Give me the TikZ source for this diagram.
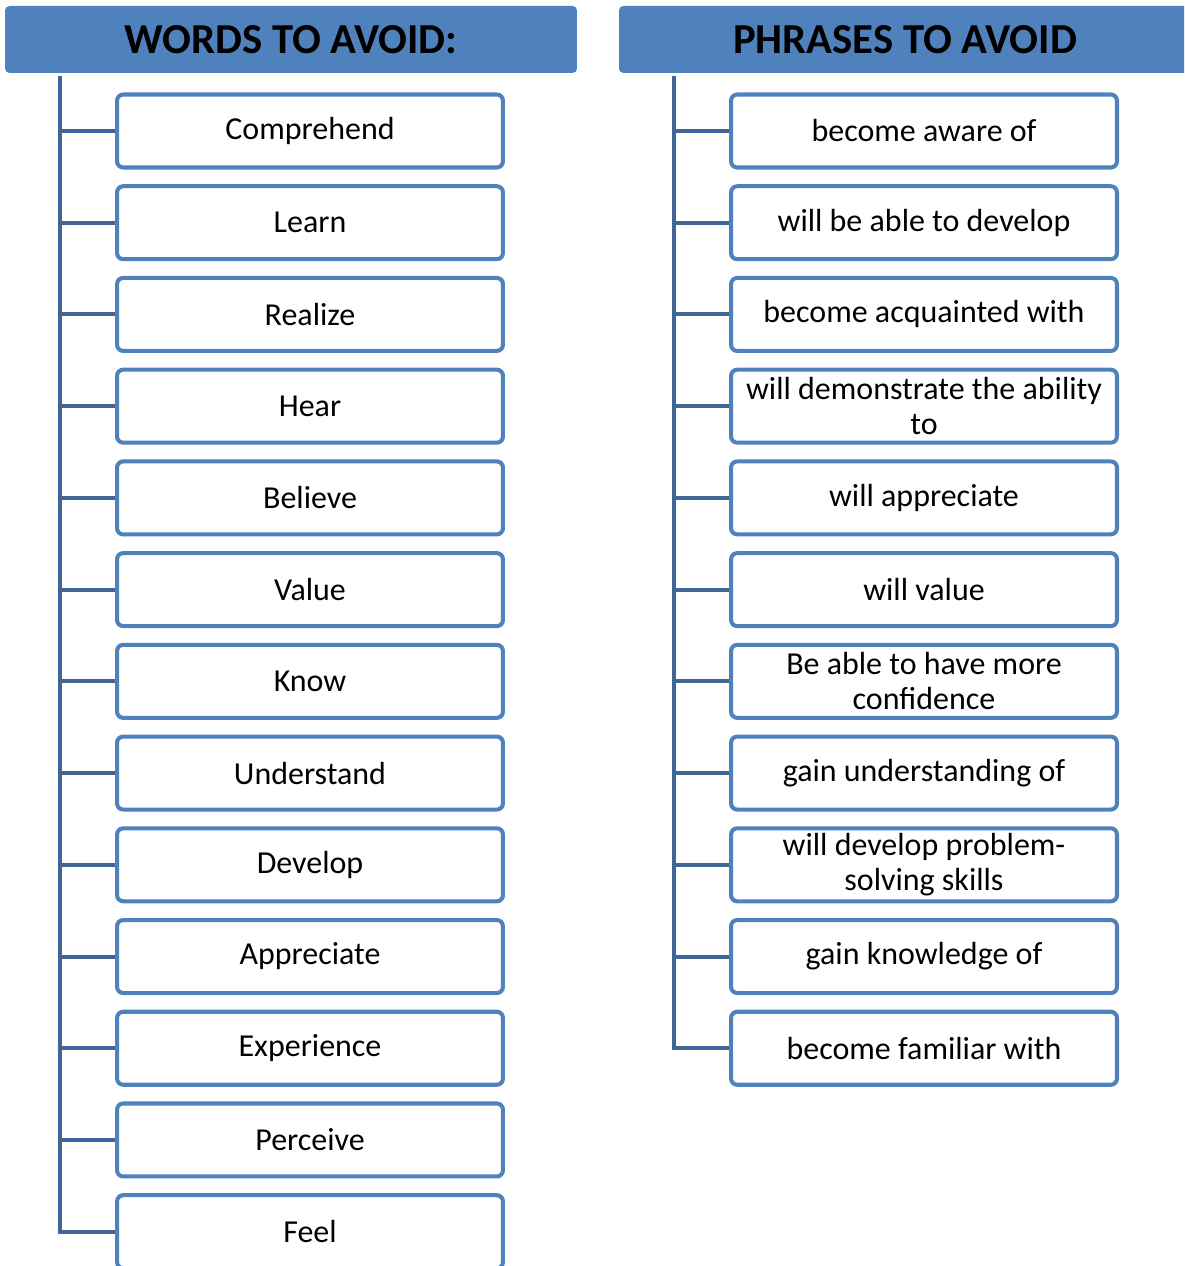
\documentclass[tikz,border=0pt]{standalone}
\usepackage{fontspec}
\setmainfont{Carlito}
\usetikzlibrary{positioning}
\definecolor{hdrblue}{HTML}{4F81BD}
\definecolor{trunkblue}{HTML}{3F6697}
\tikzstyle{header} = [rectangle, fill=hdrblue, rounded corners=2.5pt, minimum width=11.44cm, minimum height=1.34cm, font=\fontsize{24.3}{28}\selectfont\bfseries]
\tikzstyle{itembox} = [rectangle, draw=hdrblue, line width=2.3pt, fill=white, rounded corners=3.5pt, minimum width=7.72cm, minimum height=1.46cm, inner sep=1pt, align=center, font=\fontsize{18.2}{19.9}\selectfont]
\tikzstyle{branch} = [trunkblue, line width=2.3pt]

\begin{document}
\begin{tikzpicture}[x=0.02cm, y=-0.02cm, node distance=0.294cm]
    \useasboundingbox (0,0) rectangle (1184,1266);
    \fill [white] (0,0) rectangle (1184,1266);
    \clip (0,0) rectangle (1184,1266);

    \node (wordshead) [header] at (291,39.5) {WORDS TO AVOID:};
    \node (phrasehead) [header] at (905,39.5) {PHRASES TO AVOID};

    % words column
    \node (w1) [itembox] at (310,131) {Comprehend};
    \node (w2) [itembox, below=of w1] {Learn};
    \node (w3) [itembox, below=of w2] {Realize};
    \node (w4) [itembox, below=of w3] {Hear};
    \node (w5) [itembox, below=of w4] {Believe};
    \node (w6) [itembox, below=of w5] {Value};
    \node (w7) [itembox, below=of w6] {Know};
    \node (w8) [itembox, below=of w7] {Understand};
    \node (w9) [itembox, below=of w8] {Develop};
    \node (w10) [itembox, below=of w9] {Appreciate};
    \node (w11) [itembox, below=of w10] {Experience};
    \node (w12) [itembox, below=of w11] {Perceive};
    \node (w13) [itembox, below=of w12] {Feel};

    % phrases column
    \node (p1) [itembox] at (924,131) {become aware of};
    \node (p2) [itembox, below=of p1] {will be able to develop};
    \node (p3) [itembox, below=of p2] {become acquainted with};
    \node (p4) [itembox, below=of p3] {will demonstrate the ability\\to};
    \node (p5) [itembox, below=of p4] {will appreciate};
    \node (p6) [itembox, below=of p5] {will value};
    \node (p7) [itembox, below=of p6] {Be able to have more\\confidence};
    \node (p8) [itembox, below=of p7] {gain understanding of};
    \node (p9) [itembox, below=of p8] {will develop problem-\\solving skills};
    \node (p10) [itembox, below=of p9] {gain knowledge of};
    \node (p11) [itembox, below=of p10] {become familiar with};

    \coordinate (wtrunk) at (60,76);
    \coordinate (ptrunk) at (674,76);

    \draw [branch] (wtrunk) |- (w13.west);
    \draw [branch] (w1.west) -- (w1.west -| wtrunk) (w2.west) -- (w2.west -| wtrunk)
        (w3.west) -- (w3.west -| wtrunk) (w4.west) -- (w4.west -| wtrunk)
        (w5.west) -- (w5.west -| wtrunk) (w6.west) -- (w6.west -| wtrunk)
        (w7.west) -- (w7.west -| wtrunk) (w8.west) -- (w8.west -| wtrunk)
        (w9.west) -- (w9.west -| wtrunk) (w10.west) -- (w10.west -| wtrunk)
        (w11.west) -- (w11.west -| wtrunk) (w12.west) -- (w12.west -| wtrunk);

    \draw [branch] (ptrunk) |- (p11.west);
    \draw [branch] (p1.west) -- (p1.west -| ptrunk) (p2.west) -- (p2.west -| ptrunk)
        (p3.west) -- (p3.west -| ptrunk) (p4.west) -- (p4.west -| ptrunk)
        (p5.west) -- (p5.west -| ptrunk) (p6.west) -- (p6.west -| ptrunk)
        (p7.west) -- (p7.west -| ptrunk) (p8.west) -- (p8.west -| ptrunk)
        (p9.west) -- (p9.west -| ptrunk) (p10.west) -- (p10.west -| ptrunk);
\end{tikzpicture}
\end{document}
